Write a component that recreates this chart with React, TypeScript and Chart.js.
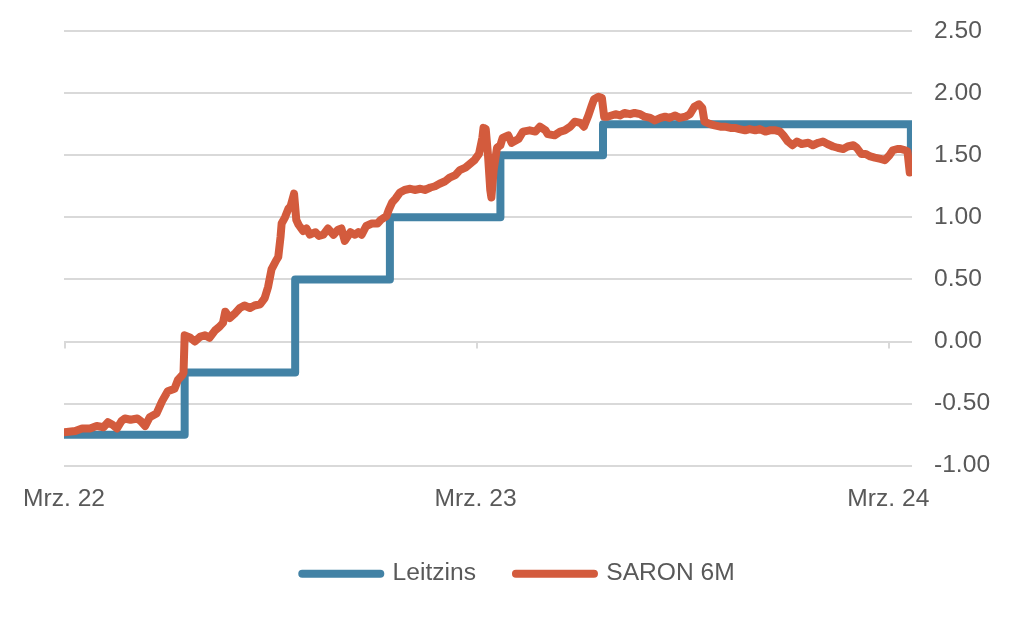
import React, { useEffect, useRef } from "react";
import { Chart, registerables } from "chart.js";

Chart.register(...registerables);

// X axis: days since 1 March 2022
const xTickDays = [0, 365, 731];
const xTickLabels = ["Mrz. 22", "Mrz. 23", "Mrz. 24"];
const xMin = 0;
const xMax = 752;

const yMin = -1;
const yMax = 2.5;
const yStep = 0.5;

const seriesNames = ["Leitzins", "SARON 6M"];
const seriesColors = ["#4282A5", "#D35B3D"];

// SNB policy rate (step changes)
const leitzinsDays = [0, 107, 205, 289, 387, 478, 751];
const leitzinsValues = [-0.75, -0.25, 0.5, 1.0, 1.5, 1.75, 1.5];

// SARON 6M
const saronDays = [
  0, 10, 16, 23, 29, 35, 39, 43, 47, 51, 54, 59, 65, 68, 72, 76, 82, 87, 92, 98, 101, 105, 106, 107,
  112, 116, 121, 125, 129, 134, 138, 141, 143, 147, 152, 156, 160, 165, 169, 174, 178, 181, 184, 188,
  190, 192, 193, 196, 199, 201, 204, 206, 208, 212, 215, 218, 223, 226, 230, 234, 239, 243, 246, 249,
  254, 258, 261, 264, 268, 273, 278, 281, 286, 288, 291, 294, 298, 302, 307, 311, 316, 320, 325, 329,
  333, 338, 342, 347, 351, 356, 360, 364, 368, 371, 372, 374, 376, 378, 379, 381, 384, 387, 389, 394,
  397, 403, 407, 413, 418, 422, 427, 429, 435, 440, 444, 449, 453, 458, 461, 465, 468, 470, 474, 477,
  479, 482, 489, 493, 497, 502, 506, 511, 515, 520, 524, 529, 533, 537, 542, 546, 551, 555, 559, 563,
  566, 568, 573, 577, 582, 586, 591, 595, 599, 604, 608, 613, 617, 622, 626, 631, 635, 638, 642, 646,
  650, 654, 660, 664, 669, 673, 677, 682, 686, 691, 695, 700, 703, 707, 711, 715, 719, 724, 728, 732,
  735, 739, 742, 746, 748, 750,
];
const saronValues = [
  -0.73, -0.72, -0.7, -0.7, -0.68, -0.69, -0.65, -0.67, -0.7, -0.64, -0.62, -0.63, -0.62, -0.64, -0.68, -0.61, -0.58, -0.48, -0.4, -0.38, -0.31, -0.27, -0.25, 0.05,
  0.03, 0.0, 0.04, 0.05, 0.03, 0.09, 0.12, 0.15, 0.24, 0.19, 0.23, 0.27, 0.29, 0.27, 0.29, 0.3, 0.35, 0.44, 0.58, 0.65,
  0.68, 0.84, 0.95, 1.0, 1.07, 1.09, 1.19, 0.98, 0.94, 0.89, 0.91, 0.86, 0.88, 0.85, 0.86, 0.91, 0.86, 0.9, 0.91, 0.81,
  0.88, 0.86, 0.88, 0.86, 0.93, 0.95, 0.95, 0.98, 1.01, 1.06, 1.12, 1.15, 1.2, 1.22, 1.23, 1.22, 1.23, 1.22, 1.24, 1.25,
  1.27, 1.29, 1.32, 1.34, 1.38, 1.4, 1.43, 1.46, 1.51, 1.64, 1.72, 1.71, 1.5, 1.22, 1.16, 1.38, 1.56, 1.58, 1.64, 1.66,
  1.6, 1.63, 1.69, 1.7, 1.69, 1.73, 1.7, 1.67, 1.66, 1.69, 1.7, 1.73, 1.77, 1.76, 1.73, 1.82, 1.9, 1.95, 1.97, 1.96,
  1.81, 1.81, 1.83, 1.82, 1.84, 1.83, 1.84, 1.83, 1.81, 1.8, 1.78, 1.8, 1.81, 1.8, 1.82, 1.8, 1.81, 1.83, 1.89, 1.91,
  1.88, 1.77, 1.75, 1.74, 1.73, 1.73, 1.72, 1.72, 1.71, 1.7, 1.71, 1.7, 1.71, 1.69, 1.7, 1.7, 1.69, 1.66, 1.61, 1.58,
  1.61, 1.59, 1.6, 1.58, 1.6, 1.61, 1.59, 1.57, 1.56, 1.55, 1.57, 1.58, 1.56, 1.51, 1.51, 1.49, 1.48, 1.47, 1.46, 1.5,
  1.54, 1.55, 1.55, 1.54, 1.53, 1.36,
];

const FONT_FAMILY = "'Liberation Sans', Arial, sans-serif";
const TEXT_COLOR = "#595959";
const GRID_COLOR = "#d9d9d9";
const FONT_SIZE = 24.6;

const zeroTickPlugin = {
  id: "zeroTicks",
  beforeDatasetsDraw(chart: any) {
    const { ctx, scales } = chart;
    const x = scales.x;
    const y = scales.y;
    const y0 = y.getPixelForValue(0);
    ctx.save();
    ctx.strokeStyle = GRID_COLOR;
    ctx.lineWidth = 2;
    xTickDays.forEach((d) => {
      const px = Math.round(x.getPixelForValue(d)) + 1;
      ctx.beginPath();
      ctx.moveTo(px, y0);
      ctx.lineTo(px, y0 + 7);
      ctx.stroke();
    });
    ctx.restore();
  },
};

// centre the legend a little left of the canvas centre, as in the original
const legendShiftPlugin = {
  id: "legendShift",
  afterLayout(chart: any) {
    if (chart.legend) chart.legend.right -= 51;
  },
};

export default function App() {
  const canvasRef = useRef<HTMLCanvasElement | null>(null);

  useEffect(() => {
    document.body.style.margin = "0";
    const canvas = canvasRef.current;
    if (!canvas) return;
    const font = { family: FONT_FAMILY, size: FONT_SIZE };

    const chart = new Chart(canvas, {
      type: "line",
      data: {
        datasets: [
          {
            label: seriesNames[0],
            data: leitzinsDays.map((d, i) => ({ x: d, y: leitzinsValues[i] })),
            borderColor: seriesColors[0],
            backgroundColor: seriesColors[0],
            borderWidth: 8,
            stepped: "before",
            pointRadius: 0,
            borderCapStyle: "round",
            borderJoinStyle: "round",
            order: 2,
          },
          {
            label: seriesNames[1],
            data: saronDays.map((d, i) => ({ x: d, y: saronValues[i] })),
            borderColor: seriesColors[1],
            backgroundColor: seriesColors[1],
            borderWidth: 8,
            pointRadius: 0,
            tension: 0,
            borderCapStyle: "round",
            borderJoinStyle: "round",
            order: 1,
          },
        ],
      },
      options: {
        responsive: false,
        animation: false,
        layout: { padding: { left: 64, right: 0, top: 31, bottom: 29 } },
        scales: {
          x: {
            type: "linear",
            min: xMin,
            max: xMax,
            grid: { display: false, drawTicks: false },
            border: { display: false },
            afterBuildTicks: (scale: any) => {
              scale.ticks = xTickDays.map((v) => ({ value: v }));
            },
            afterFit: (scale: any) => {
              scale.height = 55.7;
            },
            ticks: {
              padding: 19.2,
              autoSkip: false,
              maxRotation: 0,
              minRotation: 0,
              font,
              color: TEXT_COLOR,
              callback: (_v: any, i: number) => xTickLabels[i],
            },
          },
          y: {
            position: "right",
            min: yMin,
            max: yMax,
            grid: { color: GRID_COLOR, lineWidth: 2, drawTicks: false },
            border: { display: false },
            afterFit: (scale: any) => {
              scale.width = 112;
              scale.paddingTop = 10;
              scale.paddingBottom = 10;
            },
            ticks: {
              stepSize: yStep,
              padding: 22,
              font,
              color: TEXT_COLOR,
              callback: (v: any) => Number(v).toFixed(2),
            },
          },
        },
        plugins: {
          legend: {
            position: "bottom",
            labels: {
              usePointStyle: true,
              pointStyle: "line",
              pointStyleWidth: 78,
              padding: 40,
              font,
              color: TEXT_COLOR,
              sort: (a: any, b: any) => a.datasetIndex - b.datasetIndex,
              generateLabels: (ch: any) =>
                (Chart.defaults.plugins.legend.labels as any).generateLabels(ch).map((l: any) => ({
                  ...l,
                  lineWidth: 8,
                  lineCap: "round",
                  strokeStyle: seriesColors[l.datasetIndex],
                  fontColor: TEXT_COLOR,
                })),
            },
          },
          tooltip: { enabled: false },
        },
      },
      plugins: [zeroTickPlugin, legendShiftPlugin],
    } as any);

    return () => chart.destroy();
  }, []);

  return (
    <div style={{ width: 1024, height: 625 }}>
      <canvas ref={canvasRef} width={1024} height={625} style={{ display: "block" }} />
    </div>
  );
}
